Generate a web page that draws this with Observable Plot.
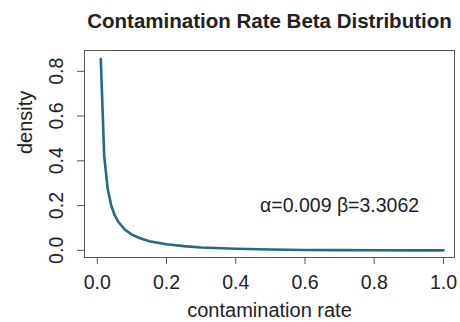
<!DOCTYPE html>
<html>
<head>
<meta charset="utf-8">
<script src="https://cdn.jsdelivr.net/npm/d3@7"></script>
<script src="https://cdn.jsdelivr.net/npm/@observablehq/plot@0.6"></script>
<style>
  body { margin: 0; background: #fff; }
  #chart svg { display: block; }
</style>
</head>
<body>
<div id="chart"></div>
<script>
// Values
const rate = [0.01, 0.02, 0.03, 0.04, 0.05, 0.06, 0.08, 0.10, 0.12, 0.15, 0.20, 0.25, 0.30, 0.40, 0.50, 0.60, 0.70, 0.80, 0.90, 1.00];
const density = [0.855, 0.420, 0.275, 0.202, 0.158, 0.129, 0.092, 0.070, 0.056, 0.041, 0.027, 0.019, 0.013, 0.007, 0.0037, 0.0018, 0.0008, 0.0003, 0.00005, 0];
const xTicks = [0, 0.2, 0.4, 0.6, 0.8, 1.0];
const yTicks = [0, 0.2, 0.4, 0.6, 0.8];
const titleText = "Contamination Rate Beta Distribution";
const xLabel = "contamination rate";
const yLabel = "density";
const note = [{x: 0.7, y: 0.2, text: "α=0.009 β=3.3062"}];

const data = rate.map((r, i) => ({rate: r, density: density[i]}));
const font = "'Liberation Sans', Arial, sans-serif";
const ink = "#222";

const chart = Plot.plot({
  width: 460,
  height: 322,
  marginLeft: 84,
  marginRight: 6,
  marginTop: 50,
  marginBottom: 65,
  style: {fontFamily: font, background: "#fff", color: ink},
  x: {domain: [-0.037, 1.032], axis: null},
  y: {domain: [-0.032, 0.893], axis: null},
  marks: [
    Plot.frame({stroke: "#555", strokeWidth: 1}),
    Plot.axisX({ticks: xTicks, tickSize: 7, tickPadding: 11, fontSize: 19.5, tickFormat: d => d.toFixed(1), stroke: "#555", fill: ink, label: null}),
    Plot.axisY({ticks: yTicks, tickSize: 7, tickPadding: 15, fontSize: 19.5, tickRotate: -90, tickFormat: d => d.toFixed(1), stroke: "#555", fill: ink, label: null}),
    Plot.line(data, {x: "rate", y: "density", stroke: "#246a82", strokeWidth: 2.6}),
    Plot.text(note, {x: "x", y: "y", text: "text", fontSize: 19.5, fill: ink}),
    Plot.text([titleText], {frameAnchor: "top", lineAnchor: "middle", dy: -29, text: d => d, fontSize: 20.5, fontWeight: "bold", fill: ink}),
    Plot.text([xLabel], {frameAnchor: "bottom", lineAnchor: "middle", dy: 53, text: d => d, fontSize: 20, fill: ink}),
    Plot.text([yLabel], {frameAnchor: "left", lineAnchor: "middle", dx: -59, rotate: -90, text: d => d, fontSize: 20, fill: ink})
  ]
});
document.getElementById("chart").appendChild(chart);
</script>
</body>
</html>
